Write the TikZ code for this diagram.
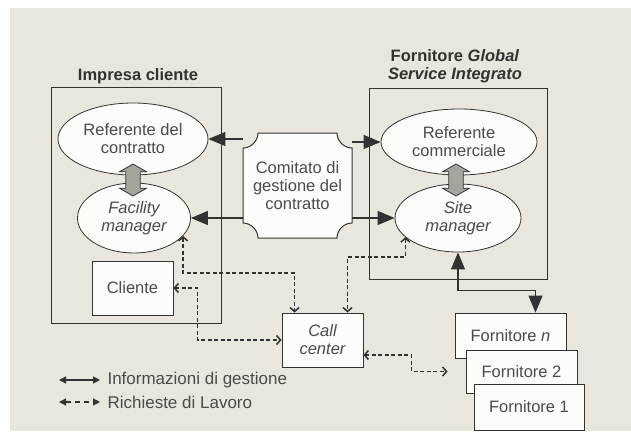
\documentclass[tikz,border=0pt]{standalone}
\usepackage{fontspec}
\setmainfont{Liberation Sans}
\usepackage{xcolor}
\usepackage{tikz}
\usetikzlibrary{shapes.geometric, shapes.arrows, arrows.meta, positioning, calc}
\definecolor{paperColor}{RGB}{232, 230, 221}
\definecolor{lineColor}{RGB}{50, 50, 50}
\definecolor{textColor}{RGB}{75, 75, 75}
\definecolor{boxColor}{RGB}{252, 252, 250}
\definecolor{shaftColor}{RGB}{165, 165, 155}

\tikzset{
    txt/.style={font=\fontsize{16.5}{18}\selectfont, text=textColor, align=center},
    oval/.style={ellipse, draw=lineColor, fill=boxColor, line width=0.8pt, inner sep=0pt, txt},
    plainbox/.style={rectangle, draw=lineColor, fill=boxColor, line width=0.9pt, inner sep=0pt, txt},
    infoarr/.style={draw=lineColor, line width=1.1pt, -{Triangle[length=17pt, width=14pt]}},
    reqarr/.style={draw=lineColor, line width=1.5pt, dash pattern=on 4pt off 2.5pt,
        {Straight Barb[length=4pt, width=9pt]}-{Straight Barb[length=4pt, width=9pt]}},
    linkarr/.style={double arrow, draw=lineColor, fill=shaftColor, line width=0.8pt,
        rotate=90, minimum height=32pt, minimum width=27pt, double arrow head extend=6pt,
        double arrow tip angle=120, inner sep=6.5pt}
}

\begin{document}
\begin{tikzpicture}[x=1pt, y=-1pt]
    \useasboundingbox (0,0) rectangle (631,434);
    \fill[paperColor] (10,8) rectangle (631,431);

    % Impresa cliente
    \node[txt, text=lineColor, font=\fontsize{16.5}{19}\selectfont\bfseries] (clientTitle) at (138,76) {Impresa cliente};
    \draw[lineColor, line width=1pt] (51,87) rectangle (221,323);
    \node[oval, minimum width=150pt, minimum height=72pt] (refContract) at (133,139) {Referente del\\contratto};
    \node[oval, minimum width=113pt, minimum height=70pt] (facility) at (134,218) {\itshape Facility\\\itshape manager};
    \node[linkarr] (clientLink) at (133,180) {};
    \node[plainbox, minimum width=81pt, minimum height=54pt] (cliente) at (132.5,288) {Cliente};

    % Fornitore Global Service Integrato
    \node[txt, text=lineColor, font=\fontsize{16.5}{18}\selectfont\bfseries] (supplierTitle) at (455,66) {Fornitore \textit{Global}\\\textit{Service Integrato}};
    \draw[lineColor, line width=1pt] (369,88) rectangle (547,279);
    \node[oval, minimum width=156pt, minimum height=66pt] (refSales) at (459,142) {Referente\\commerciale};
    \node[oval, minimum width=126pt, minimum height=68pt] (site) at (458,218) {\itshape Site\\\itshape manager};
    \node[linkarr] (supplierLink) at (456,180) {};

    % Comitato di gestione
    \fill[boxColor] (258,133) -- (337,133) .. controls (337,141) and (344,148) .. (352,148)
        -- (352,223) .. controls (344,223) and (337,230) .. (337,238)
        -- (258,238) .. controls (258,230) and (251,223) .. (243,223)
        -- (243,148) .. controls (251,148) and (258,141) .. (258,133) -- cycle;
    \draw[lineColor, line width=1pt] (258,133) -- (337,133) .. controls (337,141) and (344,148) .. (352,148)
        -- (352,223) .. controls (344,223) and (337,230) .. (337,238)
        -- (258,238) .. controls (258,230) and (251,223) .. (243,223)
        -- (243,148) .. controls (251,148) and (258,141) .. (258,133) -- cycle;
    \node[txt, minimum width=109pt, minimum height=105pt, inner sep=0pt] (board) at (297.5,185.5) {Comitato di\\gestione del\\contratto};

    % Call center and suppliers
    \node[plainbox, minimum width=81pt, minimum height=54pt] (callCenter) at (322.5,340) {\itshape Call\\\itshape center};
    \node[plainbox, minimum width=111pt, minimum height=45pt] (supplierN) at (510.5,335.5) {Fornitore \textit{n}};
    \node[plainbox, minimum width=111pt, minimum height=43pt] (supplierTwo) at (521.5,371.5) {Fornitore 2};
    \node[plainbox, minimum width=110pt, minimum height=46pt] (supplierOne) at (529,407) {Fornitore 1};

    % Informazioni di gestione
    \draw[infoarr] (board.west |- refContract.east) -- (refContract.east);
    \draw[infoarr] (board.west |- facility.east) -- (facility.east);
    \draw[infoarr] (board.east |- refSales.west) -- (refSales.west);
    \draw[infoarr] (board.east |- site.west) -- (site.west);
    \draw[infoarr, {Triangle[length=17pt, width=14pt]}-{Triangle[length=17pt, width=14pt]}]
        (site.south) -- ++(0,38) -| ([xshift=25pt]supplierN.north);

    % Richieste di lavoro
    \draw[reqarr] (facility.-20) -- ++(0,37) -| ([xshift=13pt]callCenter.north west);
    \draw[reqarr] (cliente.east) -- ++(24,0) |- (callCenter.west);
    \draw[reqarr] (site.-160) -- ++(0,20) -| ([xshift=66pt]callCenter.north west);
    \draw[reqarr] ([yshift=-15pt]callCenter.east) -- ++(48,0) |- ([xshift=-18pt]supplierTwo.west);

    % Legend
    \coordinate (infoStart) at (59,380);
    \coordinate (infoEnd) at (100,380);
    \coordinate (reqStart) at (59,402);
    \coordinate (reqEnd) at (100,402);
    \draw[lineColor, line width=1.3pt, {Triangle[length=7pt, width=7pt]}-{Triangle[length=7pt, width=7pt]}] (infoStart) -- (infoEnd);
    \draw[lineColor, line width=1.3pt, dash pattern=on 5pt off 4pt, {Triangle[length=7pt, width=7pt]}-{Triangle[length=7pt, width=7pt]}] (reqStart) -- (reqEnd);
    \node[txt, font=\fontsize{17}{20}\selectfont, anchor=west] (infoLabel) at ([xshift=4pt]infoEnd) {Informazioni di gestione};
    \node[txt, font=\fontsize{17}{20}\selectfont, anchor=west] (reqLabel) at ([xshift=4pt]reqEnd) {Richieste di Lavoro};
\end{tikzpicture}
\end{document}
